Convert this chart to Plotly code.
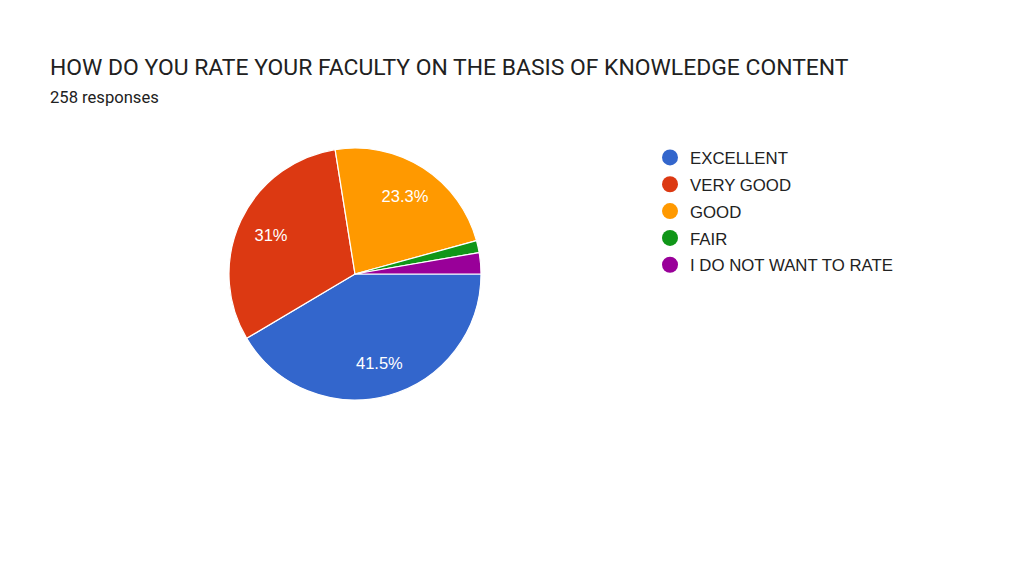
import plotly.graph_objects as go

categories = ["EXCELLENT", "VERY GOOD", "GOOD", "FAIR", "I DO NOT WANT TO RATE"]
counts = [107, 80, 60, 4, 7]
colors = ["#3366cc", "#dc3912", "#ff9900", "#109618", "#990099"]
title_text = "HOW DO YOU RATE YOUR FACULTY ON THE BASIS OF KNOWLEDGE CONTENT"
subtitle_text = "258 responses"

total = sum(counts)
labels_txt = []
for c in counts:
    p = c / total * 100
    labels_txt.append(f"{p:.3g}%" if p >= 5 else "")

W, H = 1024, 576
OFF = 8  # page body margin
cx, cy, r = 355 - OFF, 274 - OFF, 126
dom = dict(x=[(cx - r) / W, (cx + r) / W], y=[(H - cy - r) / H, (H - cy + r) / H])

fig = go.Figure()
fig.add_trace(go.Pie(
    labels=categories, values=counts, textinfo="none",
    marker=dict(colors=colors, line=dict(color="white", width=1.2)),
    sort=False, direction="clockwise", rotation=90, showlegend=False,
    domain=dom, hoverinfo="label+percent",
))
fig.add_trace(go.Pie(
    labels=categories, values=counts, text=labels_txt, textinfo="text",
    textposition="inside", insidetextorientation="horizontal", hole=0.47,
    textfont=dict(family="Arial", size=16.5, color="white"),
    marker=dict(colors=["rgba(0,0,0,0)"] * len(counts), line=dict(width=0)),
    sort=False, direction="clockwise", rotation=90, showlegend=False,
    domain=dom, hoverinfo="skip",
))
for i, (cat, col) in enumerate(zip(categories, colors)):
    fig.add_trace(go.Scatter(
        x=[None], y=[None], mode="markers", name=cat, legendgroup=f"g{i}",
        marker=dict(color=col, size=16, symbol="circle"), showlegend=True,
    ))

fig.update_layout(
    width=W, height=H, margin=dict(l=0, r=0, t=0, b=0),
    paper_bgcolor="white", plot_bgcolor="white",
    xaxis=dict(visible=False), yaxis=dict(visible=False),
    legend=dict(x=(650 - OFF) / W, y=1 - (140 - OFF) / H, xanchor="left", yanchor="top",
                font=dict(family="Arial", size=16.8, color="#222222"),
                itemsizing="trace", bgcolor="rgba(0,0,0,0)", tracegroupgap=2),
    annotations=[
        dict(text=title_text, x=(50 - OFF - 2) / W, y=1 - (52 - OFF) / H, xref="paper", yref="paper",
             xanchor="left", yanchor="top", showarrow=False,
             font=dict(family="Roboto", size=22.9, color="#212121")),
        dict(text=subtitle_text, x=(50 - OFF - 2) / W, y=1 - (86 - OFF) / H, xref="paper", yref="paper",
             xanchor="left", yanchor="top", showarrow=False,
             font=dict(family="Roboto", size=16.6, color="#212121")),
    ],
)
fig.write_html("out.html")
